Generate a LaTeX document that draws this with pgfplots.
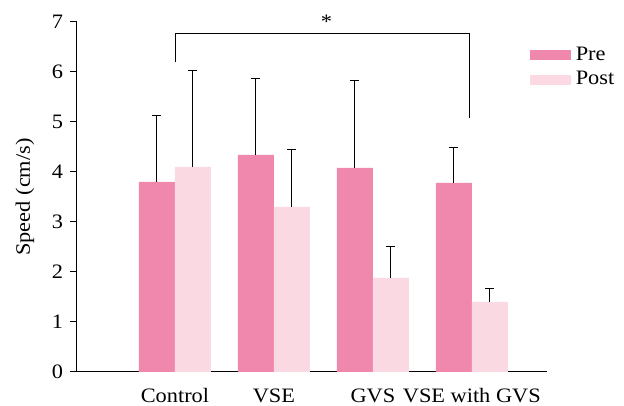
\documentclass[border=0pt]{standalone}
\usepackage{fontspec}
\setmainfont[FakeStretch=1.09]{Liberation Serif}
\usepackage{pgfplots}
\pgfplotsset{compat=1.18}
\definecolor{prec}{HTML}{F088AE}
\definecolor{postc}{HTML}{FAD9E3}
\begin{document}
\fontsize{20.5pt}{24pt}\selectfont
\begin{tikzpicture}
\begin{axis}[
  scale only axis, width=470pt, height=350pt,
  xmin=-0.99, xmax=3.76, ymin=0, ymax=7,
  axis lines=left, axis line style={-, line width=1pt},
  xtick={0,1,2,3}, xticklabels={Control,VSE,GVS,VSE with GVS},
  xtick style={draw=none},
  xticklabel style={inner sep=1pt, yshift=-8.5pt},
  ytick={0,1,...,7},
  ytick style={line width=1pt, black},
  tick align=outside, major tick length=7pt,
  /pgf/number format/assume math mode=true,
  ticklabel style={font=\fontsize{20.5pt}{24pt}\selectfont},
  ylabel={Speed (cm/s)},
  ylabel style={at={(axis description cs:-0.1106,0.5)}, anchor=center, font=\fontsize{20.5pt}{24pt}\selectfont},
  clip=false,
  legend style={at={(0.963,0.935)}, anchor=north west, draw=none, fill=none,
    inner sep=0pt, row sep=4pt, font=\fontsize{20.5pt}{24pt}\selectfont},
  legend cell align=left,
  legend image code/.code={\fill[#1] (0pt,-5pt) rectangle (41pt,5pt); \path (44pt,0pt);},
]
\addplot[fill=prec, draw=none, ybar, bar width=0.364, bar shift=0pt,
  error bars/.cd, y dir=plus, y explicit,
  error bar style={black, line width=1pt},
  error mark options={rotate=90, mark size=4.5pt, line width=1pt}]
  table[x=x, y=y, y error=e] {
x y e
-0.182 3.80 1.32
0.818 4.34 1.53
1.818 4.08 1.75
2.818 3.78 0.70
};
\addlegendentry{Pre}
\addplot[fill=postc, draw=none, ybar, bar width=0.364, bar shift=0pt,
  error bars/.cd, y dir=plus, y explicit,
  error bar style={black, line width=1pt},
  error mark options={rotate=90, mark size=4.5pt, line width=1pt}]
  table[x=x, y=y, y error=e] {
x y e
0.182 4.10 1.92
1.182 3.30 1.15
2.182 1.88 0.63
3.182 1.40 0.27
};
\addlegendentry{Post}
\addplot[black, line width=1pt, sharp plot, forget plot] coordinates {(0.005,6.19) (0.005,6.76) (2.98,6.76) (2.98,5.07)};
\node[font=\fontsize{20.5pt}{24pt}\selectfont] at (axis cs:1.53,7.0) {*};
\end{axis}
\pgfresetboundingbox
\path[use as bounding box] (-77pt,-34pt) rectangle (547pt,372pt);
\end{tikzpicture}
\end{document}
